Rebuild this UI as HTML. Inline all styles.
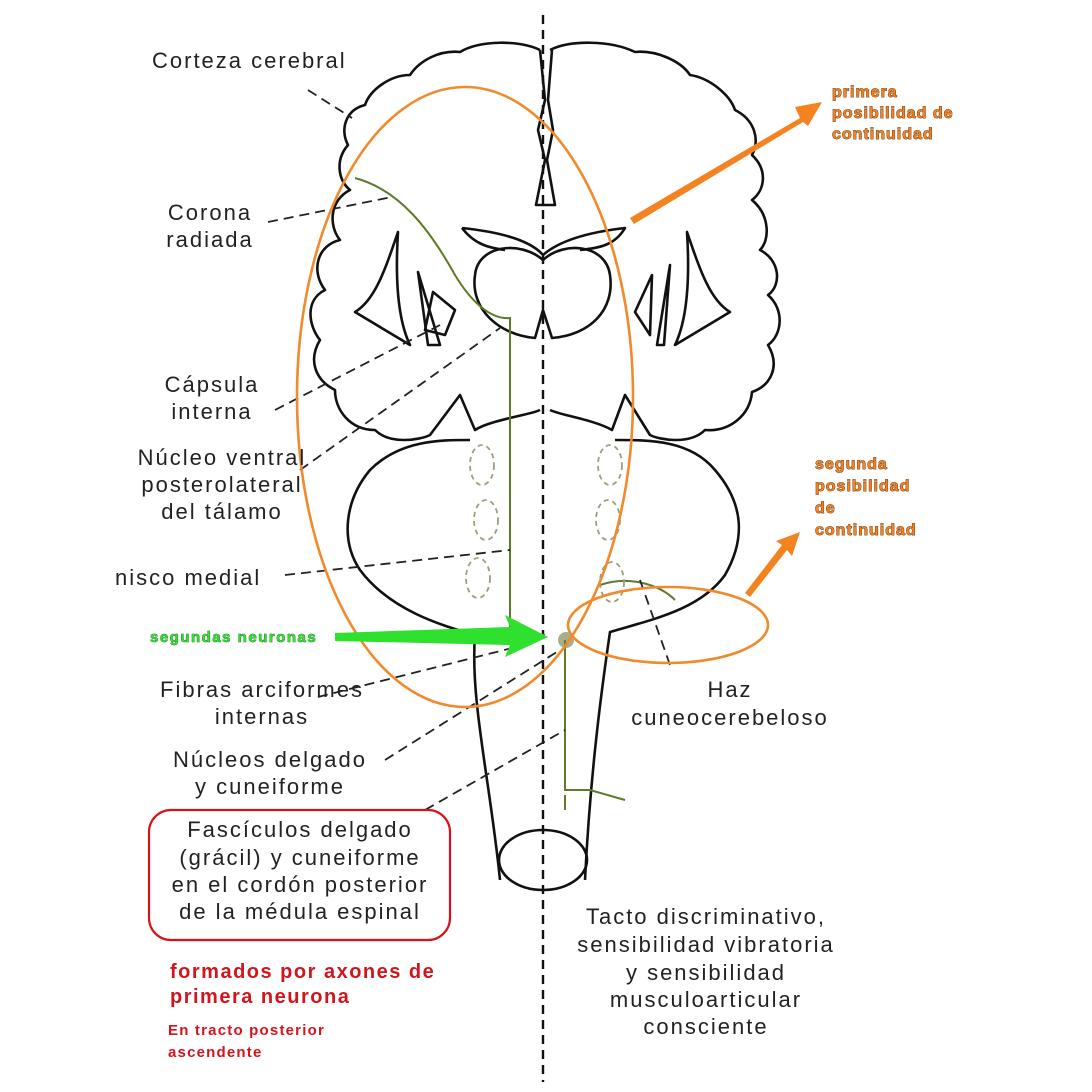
<!DOCTYPE html>
<html><head><meta charset="utf-8"><style>
body{margin:0;background:#fff;}
svg{display:block}
.l{font-family:"Liberation Sans",sans-serif;font-size:22px;letter-spacing:2px;fill:#222;}
.o{font-family:"Liberation Sans",sans-serif;font-size:16px;letter-spacing:1px;font-weight:bold;fill:#f58220;stroke:#4a2000;stroke-width:0.8px;paint-order:stroke;}
.r{font-family:"Liberation Sans",sans-serif;font-weight:bold;fill:#d4141c;}
</style></head><body>
<svg width="1092" height="1092" viewBox="0 0 1092 1092" xmlns="http://www.w3.org/2000/svg">
<rect width="1092" height="1092" fill="#fff"/>
<g fill="none" stroke="#111" stroke-width="2.6" stroke-linejoin="round">
<path d="M540 50 C520 40 480 40 460 52 C440 50 420 60 410 75 C390 75 370 90 365 105 C345 110 340 130 348 145 C335 160 338 180 350 190 C330 200 328 225 340 240 C318 245 310 270 325 290 C305 300 308 325 320 340 C308 360 315 380 335 390 C335 410 350 430 375 430 C390 445 420 440 430 435 L460 395 L475 430 C490 420 530 415 540 410"/>
<path d="M550 50 C570 40 610 40 635 52 C655 50 680 60 690 75 C710 78 730 95 735 110 C755 120 760 140 752 155 C768 170 765 190 752 200 C770 215 770 240 760 250 C780 260 782 285 768 295 C785 310 782 335 768 345 C780 365 772 385 752 392 C750 415 730 432 705 430 C690 445 660 440 650 435 L625 395 L612 430 C595 420 560 415 550 410"/>
<path d="M540 50 L545 100 L538 130 L545 160 L536 205 L555 205 L547 160 L553 130 L548 100 L552 50"/>
<path d="M462 228 C500 232 530 240 543 255 C560 240 590 232 625 228 C615 245 600 248 580 250"/>
<path d="M462 228 C475 245 490 248 505 250"/>
<path d="M543 260 C520 240 478 245 475 275 C470 310 500 335 535 338 L543 310 L552 338 C590 335 615 310 610 275 C606 245 565 240 543 260"/>
<path d="M355 312 C375 300 385 270 398 232 C395 280 398 320 410 345 Z"/>
<path d="M418 272 L440 345 L428 345 Z"/>
<path d="M433 292 L455 310 L445 335 L425 330 Z"/>
<path d="M730 312 C710 300 700 270 687 232 C690 280 687 320 675 345 Z"/>
<path d="M670 265 L657 345 L664 345 Z"/>
<path d="M652 275 L635 312 L650 335 Z"/>
<path d="M470 440 C440 440 400 440 370 470 C345 500 340 540 360 570 C390 610 440 625 475 635 C470 700 490 780 500 880"/>
<path d="M615 440 C650 440 690 440 715 470 C745 505 745 540 725 575 C700 610 650 620 610 632 C600 700 590 780 585 880"/>
<ellipse cx="543" cy="860" rx="44" ry="30"/>
</g>
<line x1="543" y1="15" x2="543" y2="1082" stroke="#111" stroke-width="2.4" stroke-dasharray="9,6"/>
<g fill="none" stroke="#5f7a2a" stroke-width="2">
<path d="M355 178 C400 190 430 230 455 275 C470 300 490 320 510 318 L510 630 L545 635"/>
<path d="M565 640 L565 790 L590 790 L625 800"/>
<path d="M565 795 L565 810"/>
<path d="M600 585 C630 575 660 585 675 600"/>
</g>
<g fill="none" stroke="#9aa07a" stroke-width="1.8" stroke-dasharray="5,4">
<ellipse cx="482" cy="465" rx="12" ry="20"/><ellipse cx="486" cy="520" rx="12" ry="20"/><ellipse cx="478" cy="578" rx="12" ry="20"/>
<ellipse cx="610" cy="465" rx="12" ry="20"/><ellipse cx="608" cy="520" rx="12" ry="20"/><ellipse cx="612" cy="582" rx="12" ry="20"/>
</g>
<circle cx="566" cy="640" r="8" fill="#6b7a40" opacity="0.6"/>
<g stroke="#222" stroke-width="1.8" stroke-dasharray="10,6" fill="none">
<line x1="308" y1="90" x2="352" y2="118"/>
<line x1="268" y1="222" x2="392" y2="197"/>
<line x1="275" y1="410" x2="440" y2="325"/>
<line x1="300" y1="470" x2="500" y2="328"/>
<line x1="285" y1="575" x2="510" y2="550"/>
<line x1="318" y1="697" x2="512" y2="648"/>
<line x1="385" y1="760" x2="560" y2="650"/>
<line x1="425" y1="810" x2="565" y2="730"/>
<line x1="640" y1="580" x2="670" y2="665"/>
</g>
<g fill="none" stroke="#f08a2c" stroke-width="2.6">
<ellipse cx="465" cy="397" rx="168" ry="310"/>
<ellipse cx="668" cy="625" rx="100" ry="38"/>
</g>
<polygon points="630,218 800,118 795,107 822,102 808,126 803,122 634,224" fill="#f58220"/>
<polygon points="745,593 782,545 776,541 800,532 792,556 787,550 750,597" fill="#f58220"/>
<polygon points="335,633 510,627 505,615 548,637 505,657 510,645 335,641" fill="#2fe02f"/>
<g class="l">
<text x="152" y="68">Corteza cerebral</text>
<text x="210" y="220" text-anchor="middle">Corona</text>
<text x="210" y="247" text-anchor="middle">radiada</text>
<text x="212" y="392" text-anchor="middle">Cápsula</text>
<text x="212" y="419" text-anchor="middle">interna</text>
<text x="222" y="465" text-anchor="middle">Núcleo ventral</text>
<text x="222" y="492" text-anchor="middle">posterolateral</text>
<text x="222" y="519" text-anchor="middle">del tálamo</text>
<text x="115" y="585">nisco medial</text>
<text x="262" y="697" text-anchor="middle">Fibras arciformes</text>
<text x="262" y="724" text-anchor="middle">internas</text>
<text x="270" y="767" text-anchor="middle">Núcleos delgado</text>
<text x="270" y="794" text-anchor="middle">y cuneiforme</text>
<text x="300" y="837" text-anchor="middle">Fascículos delgado</text>
<text x="300" y="865" text-anchor="middle">(grácil) y cuneiforme</text>
<text x="300" y="892" text-anchor="middle">en el cordón posterior</text>
<text x="300" y="919" text-anchor="middle">de la médula espinal</text>
<text x="730" y="697" text-anchor="middle">Haz</text>
<text x="730" y="725" text-anchor="middle">cuneocerebeloso</text>
<text x="706" y="924" text-anchor="middle">Tacto discriminativo,</text>
<text x="706" y="952" text-anchor="middle">sensibilidad vibratoria</text>
<text x="706" y="980" text-anchor="middle">y sensibilidad</text>
<text x="706" y="1007" text-anchor="middle">musculoarticular</text>
<text x="706" y="1034" text-anchor="middle">consciente</text>
</g>
<rect x="149" y="810" width="301" height="130" rx="22" fill="none" stroke="#d4141c" stroke-width="2.2"/>
<text class="r" x="170" y="978" font-size="20" letter-spacing="1.5">formados por axones de</text>
<text class="r" x="170" y="1003" font-size="20" letter-spacing="1.5">primera neurona</text>
<text class="r" x="168" y="1035" font-size="15" letter-spacing="1.2">En tracto posterior</text>
<text class="r" x="168" y="1057" font-size="15" letter-spacing="1.2">ascendente</text>
<g class="o">
<text x="832" y="97">primera</text>
<text x="832" y="118">posibilidad de</text>
<text x="832" y="139">continuidad</text>
<text x="815" y="469">segunda</text>
<text x="815" y="491">posibilidad</text>
<text x="815" y="513">de</text>
<text x="815" y="535">continuidad</text>
</g>
<text x="150" y="642" font-family="Liberation Sans,sans-serif" font-size="15" letter-spacing="1.5" font-weight="bold" fill="#2fe02f" stroke="#0a4a0a" stroke-width="0.6" paint-order="stroke">segundas neuronas</text>
</svg>
</body></html>
